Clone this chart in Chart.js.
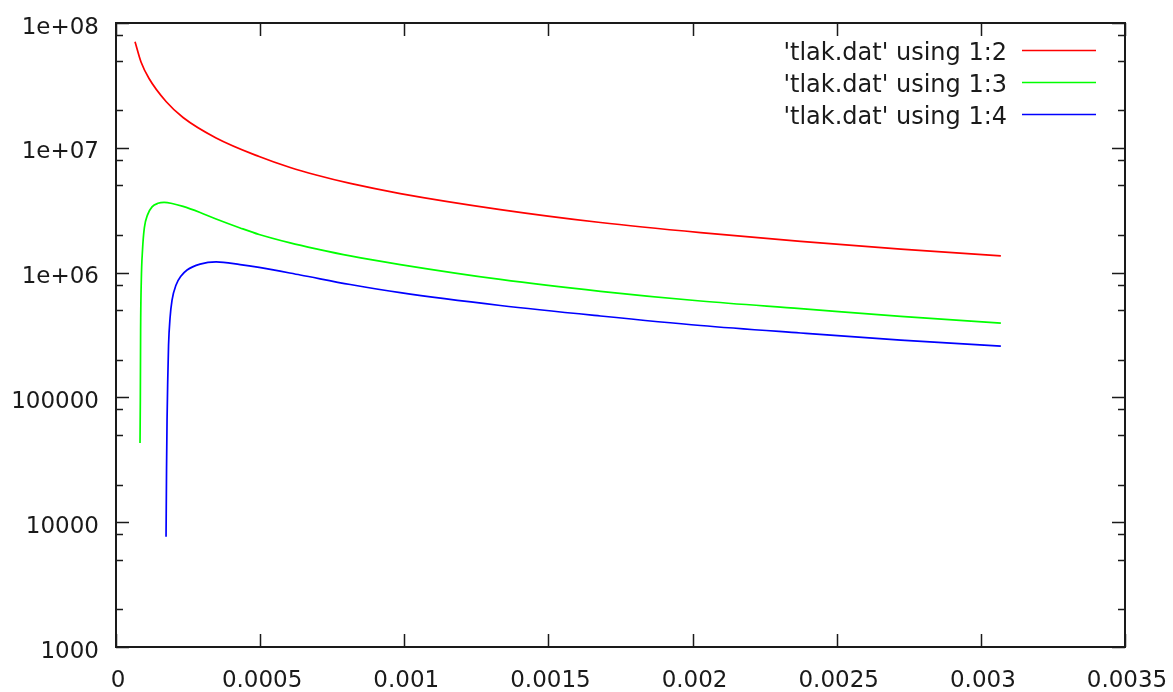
<!DOCTYPE html>
<html>
<head>
<meta charset="utf-8">
<script src="https://cdn.jsdelivr.net/npm/chart.js@4"></script>
<style>
  html, body { margin: 0; padding: 0; background: #fff; }
  canvas { display: block; }
</style>
</head>
<body>
<canvas id="c" width="1173" height="692"></canvas>
<script>
// ---- data ----
const seriesLabels = ["'tlak.dat' using 1:2", "'tlak.dat' using 1:3", "'tlak.dat' using 1:4"];
const seriesColors = ['#ff0000', '#00ff00', '#0000ff'];

const redX = [6.60e-5, 8.68e-5, 1.146e-4, 1.736e-4, 2.326e-4, 3.472e-4, 4.965e-4, 6.042e-4, 6.944e-4, 8.125e-4, 9.861e-4, 1.3333e-3, 1.6806e-3, 2.0278e-3, 2.375e-3, 2.7222e-3, 3.0694e-3];
const redY = [7.08e7, 4.87e7, 3.59e7, 2.35e7, 1.75e7, 1.20e7, 8.51e6, 6.95e6, 6.05e6, 5.18e6, 4.30e6, 3.20e6, 2.52e6, 2.09e6, 1.78e6, 1.54e6, 1.36e6];

const greenX = [8.33e-5, 8.44e-5, 8.54e-5, 8.78e-5, 9.20e-5, 9.83e-5, 1.094e-4, 1.25e-4, 1.458e-4, 1.667e-4, 1.944e-4, 2.326e-4, 2.917e-4, 3.472e-4, 4.306e-4, 4.965e-4, 6.042e-4, 6.944e-4, 8.125e-4, 9.861e-4, 1.3333e-3, 1.6806e-3, 2.0278e-3, 2.375e-3, 2.7222e-3, 3.0694e-3];
const greenY = [4.31e4, 9.53e4, 3.47e5, 8.73e5, 1.52e6, 2.28e6, 2.90e6, 3.36e6, 3.59e6, 3.65e6, 3.58e6, 3.39e6, 3.03e6, 2.69e6, 2.28e6, 2.02e6, 1.73e6, 1.55e6, 1.36e6, 1.16e6, 8.81e5, 7.08e5, 5.92e5, 5.14e5, 4.46e5, 3.93e5];

const blueX = [1.736e-4, 1.753e-4, 1.771e-4, 1.795e-4, 1.823e-4, 1.875e-4, 1.944e-4, 2.083e-4, 2.257e-4, 2.465e-4, 2.917e-4, 3.472e-4, 4.306e-4, 4.965e-4, 6.389e-4, 8.125e-4, 9.861e-4, 1.3333e-3, 1.6806e-3, 2.0278e-3, 2.375e-3, 2.7222e-3, 3.0694e-3];
const blueY = [7.65e3, 2.62e4, 6.59e4, 1.38e5, 2.63e5, 4.33e5, 6.03e5, 7.96e5, 9.39e5, 1.05e6, 1.17e6, 1.22e6, 1.16e6, 1.10e6, 9.57e5, 8.03e5, 6.90e5, 5.45e5, 4.49e5, 3.77e5, 3.28e5, 2.88e5, 2.58e5];

const xTickValues = [0, 0.0005, 0.001, 0.0015, 0.002, 0.0025, 0.003, 0.0035];
const xTickLabels = ['0', '0.0005', '0.001', '0.0015', '0.002', '0.0025', '0.003', '0.0035'];
const yTickValues = [1000, 10000, 100000, 1e6, 1e7, 1e8];
const yTickLabels = ['1000', '10000', '100000', '1e+06', '1e+07', '1e+08'];
const yMinorFactors = [2, 5, 8];

const xMin = 0, xMax = 0.0035, yMin = 1000, yMax = 1e8;

function pts(xs, ys) { return xs.map((x, i) => ({ x: x, y: ys[i] })); }

const FONT = '23px "DejaVu Sans"';
const LEGEND_FONT = '24px "DejaVu Sans"';
const INK = '#1a1a1a';

const framePlugin = {
  id: 'gnuplotFrame',
  afterDraw(chart) {
    const ctx = chart.ctx;
    const xs = chart.scales.x, ys = chart.scales.y;
    const a = chart.chartArea;
    ctx.save();
    ctx.strokeStyle = INK;
    ctx.lineWidth = 1.5;
    // ticks (inward, mirrored)
    ctx.beginPath();
    xTickValues.forEach(v => {
      const px = Math.round(xs.getPixelForValue(v)) + 0.5;
      ctx.moveTo(px, a.bottom); ctx.lineTo(px, a.bottom - 13);
      ctx.moveTo(px, a.top); ctx.lineTo(px, a.top + 13);
    });
    yTickValues.forEach(v => {
      const py = Math.round(ys.getPixelForValue(v)) + 0.5;
      ctx.moveTo(a.left, py); ctx.lineTo(a.left + 13, py);
      ctx.moveTo(a.right, py); ctx.lineTo(a.right - 13, py);
      if (v < yMax) {
        yMinorFactors.forEach(f => {
          const my = Math.round(ys.getPixelForValue(v * f)) + 0.5;
          ctx.moveTo(a.left, my); ctx.lineTo(a.left + 7, my);
          ctx.moveTo(a.right, my); ctx.lineTo(a.right - 7, my);
        });
      }
    });
    ctx.stroke();
    // frame
    ctx.lineWidth = 2;
    ctx.strokeRect(a.left, a.top, a.right - a.left, a.bottom - a.top);
    // tick labels
    ctx.fillStyle = INK;
    ctx.font = FONT;
    ctx.textAlign = 'right';
    ctx.textBaseline = 'alphabetic';
    yTickValues.forEach((v, i) => {
      const py = ys.getPixelForValue(v);
      ctx.fillText(yTickLabels[i], 99, py + 10.5);
    });
    ctx.textAlign = 'center';
    xTickValues.forEach((v, i) => {
      const px = xs.getPixelForValue(v);
      ctx.fillText(xTickLabels[i], px + 2, 687);
    });
    // legend (text then line sample, gnuplot style)
    ctx.font = LEGEND_FONT;
    ctx.textAlign = 'right';
    chart.data.datasets.forEach((ds, i) => {
      const ly = 50.5 + i * 32;
      ctx.fillStyle = INK;
      ctx.fillText(ds.label, 1007, ly + 9.5);
      ctx.strokeStyle = ds.borderColor;
      ctx.lineWidth = 1.7;
      ctx.beginPath();
      ctx.moveTo(1022, ly); ctx.lineTo(1096, ly);
      ctx.stroke();
    });
    ctx.restore();
  }
};

new Chart(document.getElementById('c'), {
  type: 'scatter',
  data: {
    datasets: [
      { label: seriesLabels[0], data: pts(redX, redY), borderColor: seriesColors[0] },
      { label: seriesLabels[1], data: pts(greenX, greenY), borderColor: seriesColors[1] },
      { label: seriesLabels[2], data: pts(blueX, blueY), borderColor: seriesColors[2] }
    ].map(d => Object.assign(d, { showLine: true, pointRadius: 0, borderWidth: 1.7, cubicInterpolationMode: 'monotone', fill: false }))
  },
  options: {
    responsive: false,
    animation: false,
    devicePixelRatio: 1,
    layout: { padding: { left: 116, top: 23, right: 48, bottom: 45 } },
    plugins: { legend: { display: false }, title: { display: false }, tooltip: { enabled: false } },
    scales: {
      x: { type: 'linear', min: xMin, max: xMax, display: false },
      y: { type: 'logarithmic', min: yMin, max: yMax, display: false }
    }
  },
  plugins: [framePlugin]
});
</script>
</body>
</html>
